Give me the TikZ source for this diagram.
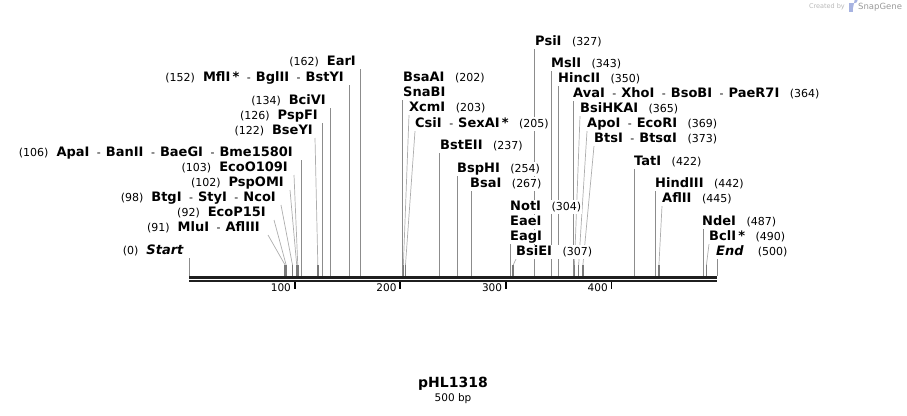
\documentclass[tikz,border=0pt]{standalone}
\usepackage{fontspec}
\setmainfont{DejaVu Sans}
\newcommand\labfont{\fontsize{13}{14}\selectfont}
\newcommand\enz[1]{\textbf{#1}}
\newcommand\enzi[1]{\textbf{\itshape #1}}
\newcommand\num[1]{{\fontsize{11}{12}\selectfont(#1)}}
\newcommand\dsep{\hspace{7.5pt}{\fontsize{11}{12}\selectfont-}\hspace{5pt}}
\newcommand\lgap{\hspace{8pt}}
\newcommand\rgap{\hspace{10.5pt}}
\tikzset{
  lab/.style={font=\labfont, fill=white, inner sep=1pt, text height=9.5pt, text depth=2.5pt},
  labL/.style={lab, anchor=east},
  labR/.style={lab, anchor=west},
  siteline/.style={draw=black!45, line width=0.8pt},
  slantline/.style={draw=black!32, line width=0.7pt},
  footline/.style={draw=black!52, line width=1.5pt},
  bbone/.style={draw=black!88, line width=3pt},
  bbtwo/.style={draw=black!88, line width=2pt},
  tickline/.style={draw=black, line width=1.8pt},
  ticklab/.style={font=\fontsize{10.5}{11}\selectfont, anchor=east, inner sep=0pt},
}
\begin{document}
\begin{tikzpicture}[x=1pt,y=-1pt]
\useasboundingbox (0,0) rectangle (907,415);
% site lines (vertical)
\foreach \bp/\ty in {0/258,106/160,126/123,134/108,152/85,162/69,202/100,237/153,254/176,267/191,304/243,327/49,343/71,350/86,364/101,422/169,442/191,487/229,500/258}{
  \coordinate (s\bp) at ({189+1.056*\bp},276);
  \coordinate (t\bp) at ({189+1.056*\bp},\ty);
  \draw[siteline] (t\bp) -- (s\bp);
}
% site lines (slanted)
\foreach \bp/\tx/\ty in {91/268/235,92/274/220,98/281/205,102/290/190,103/294/175,122/315/138,203/409/115,205/415/131,307/516/259,365/580/116,369/587/131,373/594/146,445/662/206,490/709/244}{
  \coordinate (s\bp) at ({189+1.056*\bp},276);
  \coordinate (k\bp) at ({189+1.056*\bp},265);
  \coordinate (t\bp) at (\tx,\ty);
  \draw[slantline] (t\bp) -- (k\bp);
  \draw[footline] (k\bp) -- (s\bp);
}
% backbone
\coordinate (bbL) at (189,277.5);
\coordinate (bbR) at (717,277.5);
\coordinate (bbL2) at (189,281);
\coordinate (bbR2) at (717,281);
\draw[bbone] (bbL) -- (bbR);
\draw[bbtwo] (bbL2) -- (bbR2);
% ticks
\foreach \t in {100,200,300,400}{
  \coordinate (tk\t) at ({189+1.056*\t},282);
  \coordinate (tb\t) at ({189+1.056*\t},289);
  \draw[tickline] (tk\t) -- (tb\t);
  \node[ticklab] (tl\t) at ({189+1.056*\t-3.5},287.5) {\t};
}
% left labels
\node[labL] (lEarI) at (357,62) {\num{162}\lgap\enz{EarI}};
\node[labL] (lMflI) at (345,78) {\num{152}\lgap\enz{MflI\,*}\dsep\enz{BglII}\dsep\enz{BstYI}};
\node[labL] (lBciVI) at (327,101) {\num{134}\lgap\enz{BciVI}};
\node[labL] (lPspFI) at (319,116) {\num{126}\lgap\enz{PspFI}};
\node[labL] (lBseYI) at (314,131) {\num{122}\lgap\enz{BseYI}};
\node[labL] (lApaI) at (294,153) {\num{106}\lgap\enz{ApaI}\dsep\enz{BanII}\dsep\enz{BaeGI}\dsep\enz{Bme1580I}};
\node[labL] (lEcoO) at (289,168) {\num{103}\lgap\enz{EcoO109I}};
\node[labL] (lPspOMI) at (285,183) {\num{102}\lgap\enz{PspOMI}};
\node[labL] (lBtgI) at (277,198) {\num{98}\lgap\enz{BtgI}\dsep\enz{StyI}\dsep\enz{NcoI}};
\node[labL] (lEcoP) at (267,213) {\num{92}\lgap\enz{EcoP15I}};
\node[labL] (lMluI) at (261,228) {\num{91}\lgap\enz{MluI}\dsep\enz{AflIII}};
\node[labL] (lStart) at (185,251) {\num{0}\lgap\enzi{Start}};
% middle labels
\node[labR] (lBsaAI) at (402,78) {\enz{BsaAI}\rgap\num{202}};
\node[labR] (lSnaBI) at (402,93) {\enz{SnaBI}};
\node[labR] (lXcmI) at (408,108) {\enz{XcmI}\rgap\num{203}};
\node[labR] (lCsiI) at (414,124) {\enz{CsiI}\dsep\enz{SexAI\,*}\rgap\num{205}};
\node[labR] (lBstEII) at (439,146) {\enz{BstEII}\rgap\num{237}};
\node[labR] (lBspHI) at (456,169) {\enz{BspHI}\rgap\num{254}};
\node[labR] (lBsaI) at (469,184) {\enz{BsaI}\rgap\num{267}};
\node[labR] (lNotI) at (509,207) {\enz{NotI}\rgap\num{304}};
\node[labR] (lEaeI) at (509,222) {\enz{EaeI}};
\node[labR] (lEagI) at (509,237) {\enz{EagI}};
\node[labR] (lBsiEI) at (515,252) {\enz{BsiEI}\rgap\num{307}};
% right labels
\node[labR] (lPsiI) at (534,42) {\enz{PsiI}\rgap\num{327}};
\node[labR] (lMslI) at (550,64) {\enz{MslI}\rgap\num{343}};
\node[labR] (lHincII) at (557,79) {\enz{HincII}\rgap\num{350}};
\node[labR] (lAvaI) at (572,94) {\enz{AvaI}\dsep\enz{XhoI}\dsep\enz{BsoBI}\dsep\enz{PaeR7I}\rgap\num{364}};
\node[labR] (lBsiHKAI) at (579,109) {\enz{BsiHKAI}\rgap\num{365}};
\node[labR] (lApoI) at (586,124) {\enz{ApoI}\dsep\enz{EcoRI}\rgap\num{369}};
\node[labR] (lBtsI) at (593,139) {\enz{BtsI}\dsep\enz{BtsαI}\rgap\num{373}};
\node[labR] (lTatI) at (633,162) {\enz{TatI}\rgap\num{422}};
\node[labR] (lHindIII) at (654,184) {\enz{HindIII}\rgap\num{442}};
\node[labR] (lAflII) at (661,199) {\enz{AflII}\rgap\num{445}};
\node[labR] (lNdeI) at (701,222) {\enz{NdeI}\rgap\num{487}};
\node[labR] (lBclI) at (708,237) {\enz{BclI\,*}\rgap\num{490}};
\node[labR] (lEnd) at (715,252) {\enzi{End}\hspace{14pt}\num{500}};
% title
\node[font=\bfseries\fontsize{14}{16}\selectfont, inner sep=0pt] (title) at (453,384) {pHL1318};
\node[font=\fontsize{10.5}{12}\selectfont, inner sep=0pt] (size) at (453,399) {500 bp};
% watermark
\node[font=\fontsize{6.5}{8}\selectfont, text=black!28, anchor=east, inner sep=0pt] (wm1) at (845,7) {Created by};
\fill[cyan!35!blue!35] (849,3) rectangle (853,12);
\fill[cyan!35!blue!35] (853,3) -- (855,3) arc[start angle=90,end angle=-90,radius=2.5] -- (853,8) -- cycle;
\node[font=\fontsize{8.5}{10}\selectfont, text=black!40, anchor=west, inner sep=0pt] (wm2) at (858,7) {SnapGene};
\end{tikzpicture}
\end{document}
